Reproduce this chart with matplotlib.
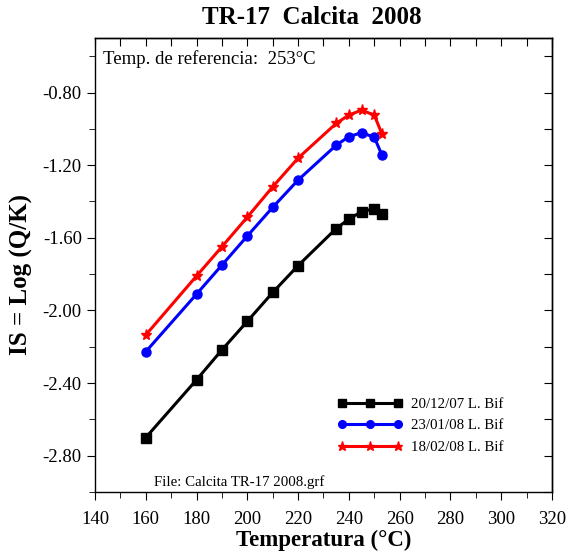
import matplotlib; matplotlib.use("Agg")
import matplotlib.pyplot as plt
from matplotlib.ticker import MultipleLocator

plt.rcParams.update({"font.family": ["Liberation Serif", "DejaVu Serif"], "font.size": 13.5})

# datos
temp = [160, 180, 190, 200, 210, 220, 235, 240, 245, 250, 253]
is_dic07 = [-2.70, -2.382, -2.217, -2.060, -1.901, -1.753, -1.549, -1.497, -1.456, -1.440, -1.469]
is_ene08 = [-2.227, -1.910, -1.750, -1.590, -1.432, -1.282, -1.090, -1.043, -1.021, -1.046, -1.143]
is_feb08 = [-2.135, -1.810, -1.649, -1.486, -1.319, -1.161, -0.970, -0.924, -0.897, -0.924, -1.027]
labels = ["20/12/07 L. Bif", "23/01/08 L. Bif", "18/02/08 L. Bif"]

fig = plt.figure(figsize=(5.69, 5.60), dpi=100)
ax = fig.add_axes([0.167, 0.1214, 0.803, 0.8106])

ax.plot(temp, is_dic07, "-s", color="black", lw=2.2, ms=7, label=labels[0])
ax.plot(temp, is_ene08, "-o", color="blue", lw=2.2, ms=6.5, label=labels[1])
ax.plot(temp, is_feb08, "-*", color="red", lw=2.2, ms=8, label=labels[2])

ax.set_xlim(140, 320); ax.set_ylim(-3.0, -0.5)
ax.xaxis.set_major_locator(MultipleLocator(20)); ax.xaxis.set_minor_locator(MultipleLocator(10))
ax.set_yticks([-2.8, -2.4, -2.0, -1.6, -1.2, -0.8])
ax.yaxis.set_minor_locator(MultipleLocator(0.2))
ax.yaxis.set_major_formatter(plt.FuncFormatter(lambda v, p: f"{v:.2f}"))
ax.tick_params(which="both", direction="out", top=False, right=False, labelsize=13.5)
ax.tick_params(which="major", length=6)
ax.tick_params(which="minor", length=4)
ax.tick_params(axis="x", which="major", pad=8)

top = ax.secondary_xaxis("top")
top.xaxis.set_major_locator(MultipleLocator(10))
top.tick_params(direction="in", length=6, labeltop=False)
rgt = ax.secondary_yaxis("right")
rgt.yaxis.set_major_locator(MultipleLocator(0.2))
rgt.tick_params(direction="in", length=6, labelright=False)
for a in (ax, top, rgt):
    for s in a.spines.values():
        s.set_linewidth(1.0)

ax.set_xlabel("Temperatura (°C)", fontsize=16.5, fontweight="bold", labelpad=1)
ax.set_ylabel("IS = Log (Q/K)", fontsize=18, fontweight="bold")
ax.yaxis.set_label_coords(-0.135, 0.48)
fig.text(312 / 569, 1 - 17 / 560, "TR-17  Calcita  2008", fontsize=18, fontweight="bold",
         ha="center", va="center")

ax.text(0.018, 0.954, "Temp. de referencia:  253°C", transform=ax.transAxes, fontsize=13.5, va="center")
ax.text(0.13, 0.022, "File: Calcita TR-17 2008.grf", transform=ax.transAxes, fontsize=10.7, va="center")

ax.legend(loc="lower left", bbox_to_anchor=(0.53, 0.084), frameon=False, numpoints=3,
          handlelength=4.4, handletextpad=0.6, labelspacing=0.55, fontsize=10.7,
          borderaxespad=0, borderpad=0, markerscale=0.85)

fig.savefig("out.png", dpi=100)
